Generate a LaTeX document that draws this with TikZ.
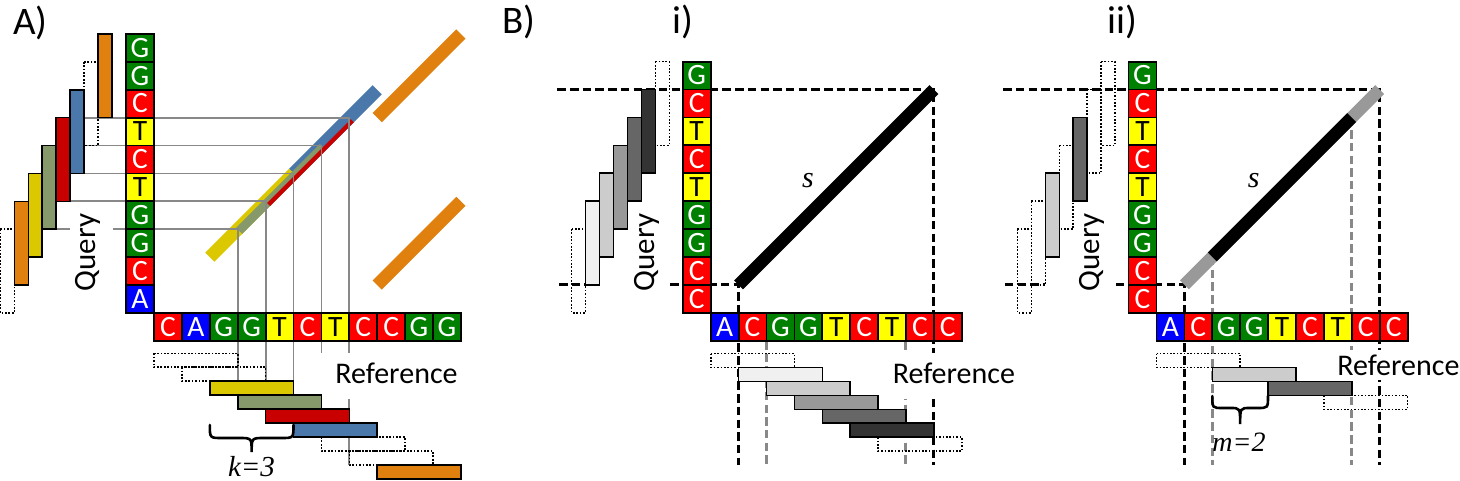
\documentclass[tikz,border=0pt]{standalone}
\usepackage{fontspec}
\setmainfont{Carlito}
\newfontfamily\itfont{Liberation Serif}
\definecolor{cg}{HTML}{008000}
\definecolor{cr}{HTML}{FF0000}
\definecolor{cy}{HTML}{FFFF00}
\definecolor{cb}{HTML}{0000FF}
\definecolor{korange}{HTML}{E0800F}
\definecolor{kyellow}{HTML}{DCC800}
\definecolor{kolive}{HTML}{85996B}
\definecolor{kred}{HTML}{C80000}
\definecolor{kblue}{HTML}{4B78AA}
\definecolor{gline}{HTML}{888888}
\definecolor{ga}{HTML}{F0F0F0}
\definecolor{gb}{HTML}{CCCCCC}
\definecolor{gc}{HTML}{999999}
\definecolor{gd}{HTML}{666666}
\definecolor{ge}{HTML}{333333}
\tikzset{
 cellbase/.style={draw=black, line width=1.8pt, minimum width=27.9pt, minimum height=27.9pt, inner sep=0pt, text height=18.5pt, text depth=0pt, font=\fontsize{29.5}{29.5}\selectfont},
 nG/.style={cellbase, fill=cg, text=white},
 nC/.style={cellbase, fill=cr, text=white},
 nT/.style={cellbase, fill=cy, text=black},
 nA/.style={cellbase, fill=cb, text=white},
 dotbar/.style={draw=black, line width=1.6pt, dash pattern=on 1.7pt off 1.7pt},
 fbar/.style={draw=black, line width=1.6pt, fill=#1},
 bdash/.style={draw=black, line width=3pt, dash pattern=on 8.5pt off 4.2pt},
 gdash/.style={draw=gline, line width=3pt, dash pattern=on 8.5pt off 4.2pt},
 glin/.style={draw=gline, line width=1.8pt},
 band/.style={line width=13pt, draw=#1},
 lab/.style={font=\fontsize{39}{39}\selectfont, inner sep=0pt, anchor=base west},
 reflab/.style={font=\fontsize{30}{30}\selectfont, fill=white, inner ysep=0pt, anchor=base},
 qlab/.style={font=\fontsize{31}{31}\selectfont, rotate=90, anchor=base, inner sep=0pt},
 itlab/.style={font=\itfont\itshape\fontsize{29}{29}\selectfont, inner sep=0pt, anchor=base},
 bracepath/.style={draw=black, line width=2.6pt, line cap=round}
}
\newcommand{\qbarA}[2]{\draw[#2] ({98.05-13.95*#1},{34+27.9*#1}) rectangle ({112-13.95*#1},{117.7+27.9*#1});}
\newcommand{\rbarA}[2]{\draw[#2] ({154+27.9*#1},{353.3+13.95*#1}) rectangle ({237.7+27.9*#1},{367.25+13.95*#1});}
\newcommand{\qbarB}[2]{\draw[#2] ({655.35-13.95*#1},{61.7+27.9*#1}) rectangle ({669.3-13.95*#1},{145.4+27.9*#1});}
\newcommand{\rbarB}[3]{\draw[#3] ({710.7+27.9*#1},{353.5+13.95*#2}) rectangle ({794.4+27.9*#1},{367.45+13.95*#2});}
\begin{document}
\begin{tikzpicture}[x=1pt,y=-1pt]
\useasboundingbox (0,0) rectangle (1460,481);
% ================= Panel A =================
% diagonal bands
\draw[band=kblue] (293.5,173.5) -- (377.2,89.8);
\draw[band=kyellow] (209.8,257.2) -- (293.5,173.5);
\draw[kolive, line width=8.67pt, shift={(1.53,1.53)}] (237.7,229.3) -- (321.4,145.6);
\draw[kred, line width=4.33pt, shift={(3.06,3.06)}] (265.6,201.4) -- (349.3,117.7);
\draw[band=korange] (377.2,117.7) -- (460.9,34);
\draw[band=korange] (377.2,285.1) -- (460.9,201.4);
% gray guide lines
\draw[glin] (84.1,117.7) -- (349.3,117.7) -- (349.3,465.2);
\draw[glin] (84.1,145.6) -- (321.4,145.6) -- (321.4,437.3);
\draw[glin] (84.1,173.5) -- (293.5,173.5) -- (293.5,423.3);
\draw[glin] (70.15,201.4) -- (265.6,201.4) -- (265.6,409.4);
\draw[glin] (56.2,229.3) -- (70,229.3);
\draw[glin] (113,229.3) -- (237.7,229.3) -- (237.7,395.4);
% sequence cells
\foreach \l [count=\i from 0] in {G,G,C,T,C,T,G,G,C,A}
  \node[n\l] (qa\i) at (139.95,{47.95+27.9*\i}) {\l};
\foreach \l [count=\i from 0] in {C,A,G,G,T,C,T,C,C,G,G}
  \node[n\l] (ra\i) at ({167.95+27.9*\i},327) {\l};
\node[reflab, text height=30.3pt, text depth=15.7pt, inner xsep=16pt] (refA) at (396.5,383.3) {Reference};
% k-mer bars
\qbarA{1}{dotbar}
\qbarA{7}{dotbar}
\qbarA{0}{fbar=korange}
\qbarA{2}{fbar=kblue}
\qbarA{3}{fbar=kred}
\qbarA{4}{fbar=kolive}
\qbarA{5}{fbar=kyellow}
\qbarA{6}{fbar=korange}
\rbarA{0}{dotbar}
\rbarA{1}{dotbar}
\rbarA{6}{dotbar}
\rbarA{7}{dotbar}
\rbarA{2}{fbar=kyellow}
\rbarA{3}{fbar=kolive}
\rbarA{4}{fbar=kred}
\rbarA{5}{fbar=kblue}
\rbarA{8}{fbar=korange}
\node[qlab] (queryA) at (95.5,252.5) {Query};
\draw[bracepath] (209.8,425) .. controls (209.8,438) .. (222,438) -- (239,438) .. controls (251.65,438) .. (251.65,452) .. controls (251.65,438) .. (264.3,438) -- (281.3,438) .. controls (293.5,438) .. (293.5,425);
\node[itlab] (kA) at (251.5,476.5) {k=3};
\node[lab] (labA) at (13,35) {A)};
\node[lab] (labB) at (502,34) {B)};
% ================= Panel B i =================
\draw[bdash] (557.3,89.6) -- (933.9,89.6) -- (933.9,465);
\draw[bdash] (559,284.9) -- (599.3,284.9);
\draw[bdash] (670,284.9) -- (738.6,284.9) -- (738.6,465);
\draw[gdash] (766.5,341) -- (766.5,465);
\draw[gdash] (905.9,341) -- (905.9,465);
\draw[line width=12.6pt] (738.6,284.9) -- (933.9,89.6);
\foreach \l [count=\i from 0] in {G,C,T,C,T,G,G,C,C}
  \node[n\l] (qbi\i) at (696.65,{75.65+27.9*\i}) {\l};
\foreach \l [count=\i from 0] in {A,C,G,G,T,C,T,C,C}
  \node[n\l] (rbi\i) at ({724.65+27.9*\i},327) {\l};
\node[reflab, text height=30.3pt, text depth=15.7pt, inner xsep=16pt] (refBi) at (953.9,383.3) {Reference};
\qbarB{0}{dotbar}
\qbarB{6}{dotbar}
\qbarB{1}{fbar=ge}
\qbarB{2}{fbar=gd}
\qbarB{3}{fbar=gc}
\qbarB{4}{fbar=gb}
\qbarB{5}{fbar=ga}
\rbarB{0}{0}{dotbar}
\rbarB{6}{6}{dotbar}
\rbarB{1}{1}{fbar=ga}
\rbarB{2}{2}{fbar=gb}
\rbarB{3}{3}{fbar=gc}
\rbarB{4}{4}{fbar=gd}
\rbarB{5}{5}{fbar=ge}
\node[qlab] (queryBi) at (654,252.5) {Query};
\node[itlab, font=\itfont\itshape\fontsize{30}{30}\selectfont] (sBi) at (808,188) {s};
\node[lab] (labi) at (672.5,34) {i)};
% ================= Panel B ii =================
\begin{scope}[shift={(445.8,0)}]
\draw[bdash] (557.3,89.6) -- (933.9,89.6) -- (933.9,465);
\draw[bdash] (559,284.9) -- (599.3,284.9);
\draw[bdash] (670,284.9) -- (738.6,284.9) -- (738.6,465);
\draw[gdash] (766.5,257) -- (766.5,465);
\draw[gdash] (905.9,117.5) -- (905.9,465);
\draw[line width=12.6pt, gc] (738.6,284.9) -- (933.9,89.6);
\draw[line width=12.6pt, black] (766.5,257) -- (905.9,117.5);
\foreach \l [count=\i from 0] in {G,C,T,C,T,G,G,C,C}
  \node[n\l] (qbii\i) at (696.65,{75.65+27.9*\i}) {\l};
\foreach \l [count=\i from 0] in {A,C,G,G,T,C,T,C,C}
  \node[n\l] (rbii\i) at ({724.65+27.9*\i},327) {\l};
\node[reflab, text height=25pt, text depth=5pt, inner xsep=4pt] (refBii) at (952.6,375) {Reference};
\qbarB{0}{dotbar}
\qbarB{1}{dotbar}
\qbarB{3}{dotbar}
\qbarB{5}{dotbar}
\qbarB{6}{dotbar}
\qbarB{2}{fbar=gd}
\qbarB{4}{fbar=gb}
\rbarB{0}{0}{dotbar}
\rbarB{6}{3}{dotbar}
\rbarB{2}{1}{fbar=gb}
\rbarB{4}{2}{fbar=gd}
\node[qlab] (queryBii) at (654,252.5) {Query};
\node[itlab, font=\itfont\itshape\fontsize{30}{30}\selectfont] (sBii) at (808,188) {s};
\draw[bracepath] (766.5,396) .. controls (766.5,408) .. (777,408) -- (784.5,408) .. controls (794.35,408) .. (794.35,424) .. controls (794.35,408) .. (804.2,408) -- (811.7,408) .. controls (822.2,408) .. (822.2,396);
\node[itlab, font=\itfont\itshape\fontsize{28}{28}\selectfont] (mBii) at (793.2,451.7) {m=2};
\node[lab] (labii) at (661.5,34) {ii)};
\end{scope}
\end{tikzpicture}
\end{document}
